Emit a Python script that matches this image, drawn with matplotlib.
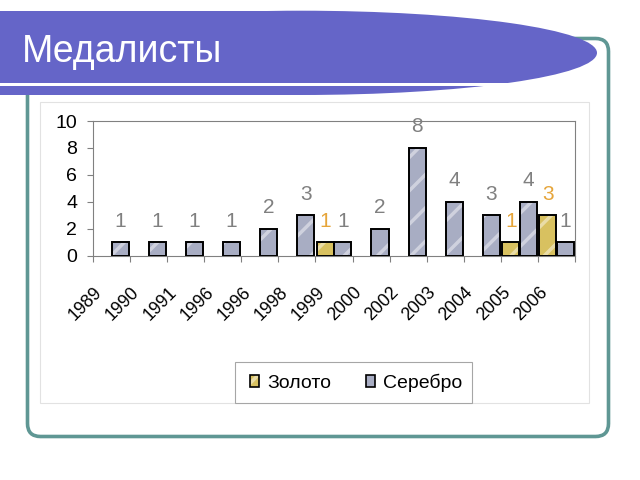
import matplotlib
matplotlib.use('Agg')
import matplotlib.pyplot as plt
import numpy as np
import matplotlib.transforms as mtransforms
from matplotlib.patches import FancyBboxPatch, Ellipse, Rectangle, Patch
from matplotlib.legend_handler import HandlerTuple

# ---- data ----
title = 'Медалисты'
categories = ['1989', '1990', '1991', '1996', '1996', '1998', '1999',
              '2000', '2002', '2003', '2004', '2005', '2006']
gold = [0, 0, 0, 0, 0, 0, 1, 0, 0, 0, 0, 1, 3]
silver = [1, 1, 1, 1, 2, 3, 1, 2, 8, 4, 3, 4, 1]
series_names = ['Золото', 'Серебро']
y_ticks = [0, 2, 4, 6, 8, 10]

FONT = 'Liberation Sans'

GOLD_C = '#D8C160'
SILVER_C = '#A8ADC3'
GOLD_TXT = '#E6A53A'
SILVER_TXT = '#808080'
BLUE = '#6565C8'
TEAL = '#5F9794'
HATCH_EC = (1, 1, 1, 0.45)

plt.rcParams['hatch.linewidth'] = 2.5

fig = plt.figure(figsize=(6.4, 4.8), dpi=100)

# ---- decorations in pixel coordinates ----
bg = fig.add_axes([0, 0, 1, 1])
bg.set_xlim(0, 640)
bg.set_ylim(480, 0)
bg.axis('off')

bg.add_patch(FancyBboxPatch((27.5, 38.5), 581, 398,
                            boxstyle='round,pad=0,rounding_size=13',
                            fill=False, ec=TEAL, lw=2.6))
bg.add_patch(Rectangle((39.5, 102), 549.5, 301, fc='white', ec='#E2E2E2', lw=0.8))
# banner
bg.add_patch(Rectangle((0, 10.7), 301, 84.3, color=BLUE, lw=0))
bg.add_patch(Ellipse((301, 52.85), 592, 84.3, color=BLUE, lw=0))
bg.add_patch(Rectangle((0, 83.4), 560, 2.6, color='white', lw=0))
bg.text(21.5, 61.7, title, color='white', fontsize=27, family=FONT,
        ha='left', va='baseline')

# legend box
bg.add_patch(Rectangle((235, 362), 237, 41, fc='white', ec='#A6A6A6', lw=0.8))

# ---- chart ----
ax = fig.add_axes([93 / 640, (480 - 255.7) / 480, 482 / 640, 134.7 / 480])
ax.set_facecolor('white')
n = len(categories)
centers = np.arange(n) + 0.505
ax.set_xlim(0, n)
ax.set_ylim(0, 10)

def draw(xpos, vals, color, txtcolor):
    vals = np.asarray(vals)
    m = vals > 0
    ax.bar(xpos[m], vals[m], width=0.46, color=color, edgecolor=HATCH_EC,
           lw=0, hatch='/', zorder=2)
    ax.bar(xpos[m], vals[m], width=0.46, fill=False, edgecolor='black',
           lw=1.4, zorder=3)
    for xi, v in zip(xpos[m], vals[m]):
        ax.annotate(str(v), (xi, v), xytext=(0, 11.2), textcoords='offset points',
                    ha='center', va='baseline', fontsize=15, color=txtcolor,
                    family=FONT, annotation_clip=False)

draw(centers - 0.235, gold, GOLD_C, GOLD_TXT)
draw(centers + 0.235, silver, SILVER_C, SILVER_TXT)

for s in ax.spines.values():
    s.set_color('#808080')
    s.set_linewidth(0.8)

ax.set_yticks(y_ticks)
ax.set_yticklabels([str(t) for t in y_ticks])
ax.tick_params(axis='y', length=4.5, width=0.8, color='#808080', pad=6.8,
               labelsize=14)
for lab in ax.get_yticklabels():
    lab.set_fontfamily(FONT)

ax.set_xticks(np.arange(0, n + 1))
ax.set_xticklabels([])
ax.tick_params(axis='x', length=4.5, width=0.8, color='#808080')

trans = mtransforms.blended_transform_factory(ax.transData, ax.transAxes) + \
    mtransforms.ScaledTranslation(-18 / 100, -28 / 100, fig.dpi_scale_trans)
for xi, c in zip(centers, categories):
    ax.text(xi, 0, c, transform=trans, rotation=45, rotation_mode='anchor',
            ha='right', va='top', fontsize=12.8, family=FONT, clip_on=False)

# legend
handles = [
    (Patch(fc=GOLD_C, ec=HATCH_EC, lw=0, hatch='/'), Patch(fill=False, ec='black', lw=1.2)),
    (Patch(fc=SILVER_C, ec=HATCH_EC, lw=0, hatch='/'), Patch(fill=False, ec='black', lw=1.2)),
]
fig.legend(handles, series_names, handler_map={tuple: HandlerTuple(ndivide=1)},
           loc='center', bbox_to_anchor=(356.5 / 640, 1 - 382.5 / 480),
           ncol=2, frameon=False, prop={'family': FONT, 'size': 14},
           handlelength=0.46, handleheight=0.57, handletextpad=0.41,
           columnspacing=1.8, borderpad=0, borderaxespad=0)

fig.savefig('out.png', dpi=100)
